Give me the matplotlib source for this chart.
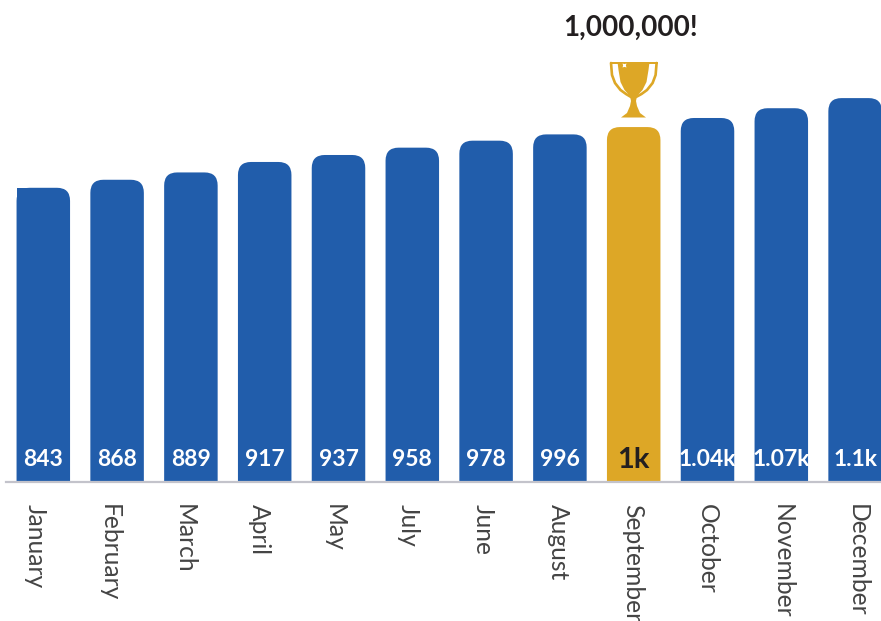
import matplotlib
matplotlib.use("Agg")
import matplotlib.pyplot as plt
from matplotlib.patches import FancyBboxPatch, Rectangle
from matplotlib.transforms import ScaledTranslation

months = ["January", "February", "March", "April", "May", "July", "June",
          "August", "September", "October", "November", "December"]
values = [843, 866, 887, 917, 937, 958, 978, 996, 1017, 1043, 1071, 1100]
value_labels = ["843", "868", "889", "917", "937", "958", "978", "996",
                "1k", "1.04k", "1.07k", "1.1k"]
highlight = "September"
title = "1,000,000!"

BLUE = "#215dab"
GOLD = "#dda726"
DARK = "#231f20"
W, H = 881, 621
plt.rcParams["font.family"] = ["Lato", "DejaVu Sans"]

fig = plt.figure(figsize=(W / 100, H / 100), dpi=100, facecolor="white")
left, right, top, base = 6, 881, 0, 482
ax = fig.add_axes([left / W, 1 - base / H, (right - left) / W, (base - top) / H])
step = 73.8
ax.set_xlim((left - 43.3) / step, (right - 43.3) / step)
ppu = 0.349
ax.set_ylim(0, (base - top) / ppu)
bw = 53.5 / step
radius = 13 / step
aspect = step / ppu

for i, (m, v, lab) in enumerate(zip(months, values, value_labels)):
    c = GOLD if m == highlight else BLUE
    ax.add_patch(FancyBboxPatch((i - bw / 2, -100), bw, v + 100,
                                boxstyle=f"round,pad=0,rounding_size={radius}",
                                mutation_aspect=aspect, fc=c, ec="none"))
    if i == 0:
        ax.add_patch(Rectangle((i - bw / 2, 0), bw / 2, v, fc=c, ec="none"))
    hl = m == highlight
    ax.text(i, 22 / ppu, lab, ha="center", va="center",
            color=DARK if hl else "white", fontweight="bold",
            fontsize=21 if hl else 16.5, zorder=5, clip_on=False)

for s in ["top", "left", "right"]:
    ax.spines[s].set_visible(False)
ax.spines["bottom"].set_color("#c3c3cb")
ax.spines["bottom"].set_linewidth(1.6)
ax.set_yticks([])
ax.set_xticks(range(len(months)))
ax.set_xticklabels(months, rotation=270, ha="center", va="top",
                   fontsize=17.7, color="#444444", fontweight="normal")
ax.tick_params(axis="x", length=0, pad=16)
for i, t in enumerate(ax.get_xticklabels()):
    dx = (-8.5 + 0.95 * i) / 100
    t.set_transform(t.get_transform() + ScaledTranslation(dx, 0, fig.dpi_scale_trans))

hi = months.index(highlight)
ax.annotate(title, xy=(hi, values[hi]), xytext=(-3.5 / 100 * 72, 99 / 100 * 72),
            textcoords="offset points", ha="center", va="center",
            fontsize=20, fontweight="bold", color=DARK, annotation_clip=False)

# trophy icon, in its own small axes and icon coordinates
ix0, ix1, iy0, iy1 = 608, 660, 61, 119
iax = fig.add_axes([ix0 / W, 1 - iy1 / H, (ix1 - ix0) / W, (iy1 - iy0) / H])
iax.set_xlim(ix0, ix1)
iax.set_ylim(iy1, iy0)
iax.axis("off")
cup = [(617.5, 62), (649.5, 62), (648.5, 70), (646.5, 82), (642.5, 90), (637, 96), (636, 101),
       (637, 106), (640, 113), (646, 117.5), (621, 117.5), (627, 113), (630, 106),
       (631, 101), (630, 96), (624.5, 90), (620.5, 82), (618.5, 70), (617.5, 62)]
iax.fill(*zip(*cup), color=GOLD, lw=0)
iax.fill([610, 657.6, 657.6, 610], [62, 62, 64, 64], color=GOLD, lw=0)
for xs in ([611, 612, 615, 620.5, 626, 631], [656.6, 655.6, 652.6, 647, 641.5, 636]):
    iax.plot(xs, [63, 75, 83, 90, 94, 97], color=GOLD, lw=1.9, solid_capstyle="round")
iax.plot([624.3], [65], marker=(4, 1, 45), ms=4, color="white", mew=0)

fig.savefig("out.png", dpi=100, facecolor="white")
